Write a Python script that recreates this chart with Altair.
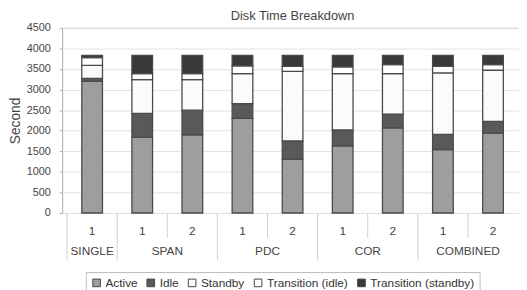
import altair as alt
import pandas as pd

# ---- data ----
series = ["Active", "Idle", "Standby", "Transition (idle)", "Transition (standby)"]
colors = ["#9e9e9e", "#595959", "#fbfbfb", "#ffffff", "#3a3a3a"]
groups = ["SINGLE", "SPAN", "SPAN", "PDC", "PDC", "COR", "COR", "COMBINED", "COMBINED"]
runs = ["1", "1", "2", "1", "2", "1", "2", "1", "2"]

active = [3200, 1840, 1900, 2300, 1310, 1630, 2070, 1540, 1940]
idle = [75, 580, 600, 360, 440, 390, 335, 370, 290]
standby = [315, 825, 745, 730, 1695, 1370, 985, 1495, 1240]
trans_idle = [190, 145, 145, 190, 120, 160, 215, 160, 135]
trans_standby = [50, 440, 440, 250, 265, 280, 225, 265, 225]

y_ticks = [0, 500, 1000, 1500, 2000, 2500, 3000, 3500, 4000, 4500]

# ---- tables ----
all_vals = [active, idle, standby, trans_idle, trans_standby]
rows = []
for i, (g, r) in enumerate(zip(groups, runs)):
    for k, s in enumerate(series):
        rows.append(dict(pos=i + 0.5, grp=g, run=r, series=s, sidx=k, value=all_vals[k][i]))
df = pd.DataFrame(rows)

lab_df = pd.DataFrame(dict(pos=[i + 0.5 for i in range(len(runs))], run=runs, grp=groups))
grp_df = lab_df.groupby("grp", sort=False)["pos"].mean().reset_index()

# boundaries between bars
bounds_major, bounds_minor = [], []
for i in range(len(groups)):
    if i == 0 or groups[i] != groups[i - 1]:
        bounds_major.append(i)
    else:
        bounds_minor.append(i)
major_df = pd.DataFrame(dict(pos=bounds_major))
minor_df = pd.DataFrame(dict(pos=bounds_minor))

W, H = 464, 188
x_scale = alt.Scale(domain=[0, 8.92], nice=False, zero=False)

bars = alt.Chart(df).mark_bar(size=21, stroke="#4a4a4a", strokeWidth=1.3).encode(
    x=alt.X("pos:Q", scale=x_scale, axis=None),
    y=alt.Y("value:Q", stack="zero",
            scale=alt.Scale(domain=[0, 4500], nice=False),
            axis=alt.Axis(values=y_ticks, format="d", title="Second", grid=True,
                          gridColor="#e2e2e2",
                          domain=False, tickSize=3, tickColor="#aaaaaa",
                          labelFontSize=11, labelColor="#444444", labelPadding=9,
                          titleFontSize=14, titleFontWeight="normal", titleColor="#444444",
                          titlePadding=4)),
    color=alt.Color("series:N", scale=alt.Scale(domain=series, range=colors),
                    legend=alt.Legend(title=None, orient="none", legendX=24, legendY=248,
                                      direction="horizontal",
                                      symbolType="square", symbolSize=60,
                                      symbolStrokeColor="#444444", symbolStrokeWidth=1,
                                      labelFontSize=12, labelColor="#333333",
                                      labelOffset=3, columnPadding=7,
                                      strokeColor="#bbbbbb", padding=5)),
    order=alt.Order("sidx:Q"),
)

num_labels = alt.Chart(lab_df).mark_text(fontSize=12, color="#444444", baseline="middle").encode(
    x=alt.X("pos:Q", scale=x_scale), y=alt.value(206), text="run:N")

grp_labels = alt.Chart(grp_df).mark_text(fontSize=12, color="#444444", baseline="middle").encode(
    x=alt.X("pos:Q", scale=x_scale), y=alt.value(227), text="grp:N")

major_rules = alt.Chart(major_df).mark_rule(color="#cfcfcf", strokeWidth=1).encode(
    x=alt.X("pos:Q", scale=x_scale), y=alt.value(H), y2=alt.value(H + 48))
minor_rules = alt.Chart(minor_df).mark_rule(color="#cfcfcf", strokeWidth=1).encode(
    x=alt.X("pos:Q", scale=x_scale), y=alt.value(H), y2=alt.value(H + 25))

chart = alt.layer(bars, major_rules, minor_rules, num_labels, grp_labels).properties(
    width=W, height=H,
    title=alt.TitleParams("Disk Time Breakdown", fontSize=13, fontWeight="normal",
                          color="#444444", anchor="middle", offset=5, frame="group",
                          dx=2, dy=6),
    autosize=alt.AutoSizeParams(type="none"),
    padding={"left": 55, "top": 18, "right": 0, "bottom": 76},
).configure(font="Liberation Sans").configure_view(stroke="#aaaaaa", strokeWidth=1)

chart.save("out.html", embed_options={"renderer": "svg", "actions": False})
